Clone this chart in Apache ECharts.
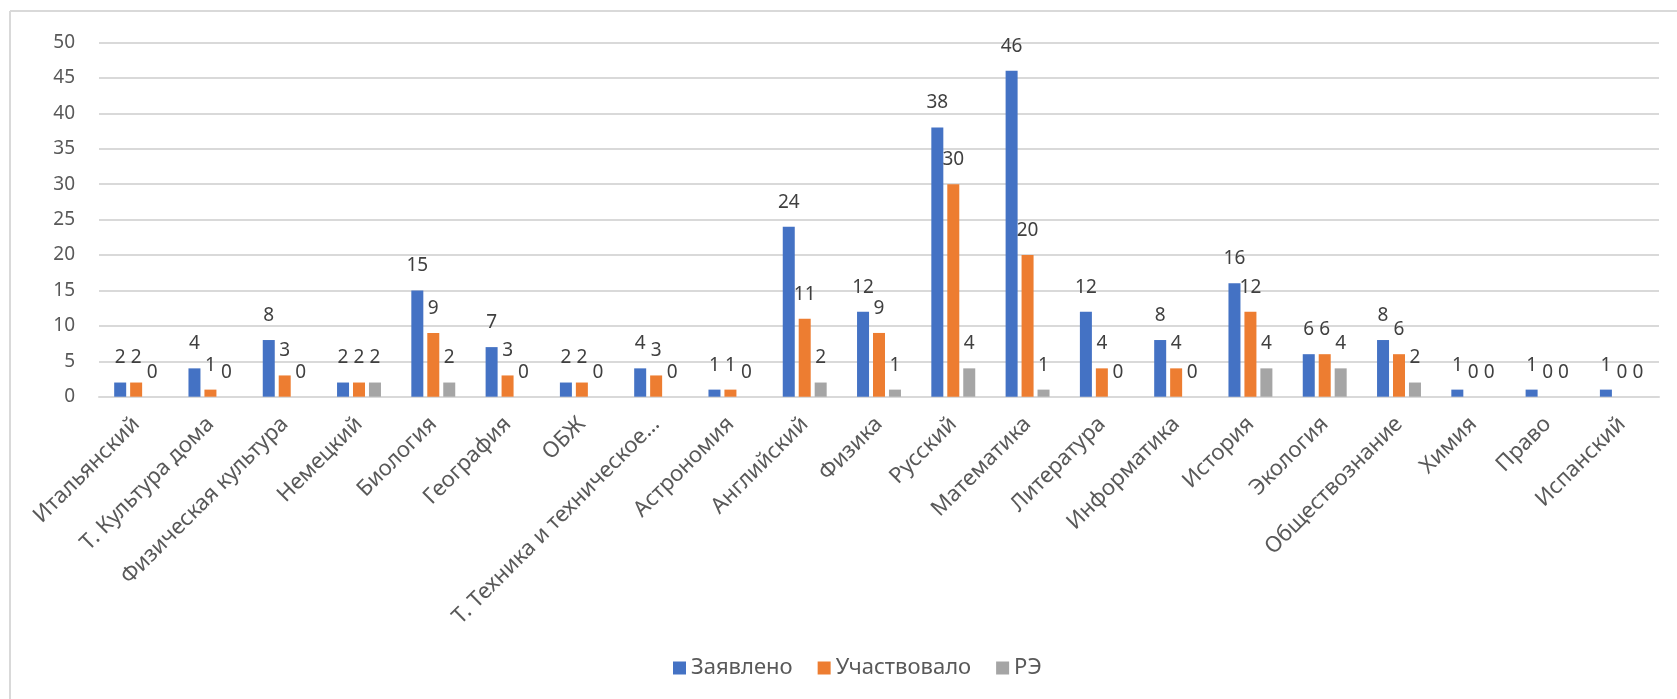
<!DOCTYPE html>
<html>
<head>
  <meta charset="utf-8" />
  <title>Олимпиада по предметам</title>
  <script src="https://cdn.jsdelivr.net/npm/echarts@6/dist/echarts.min.js"></script>
  <style>
    html, body { margin: 0; padding: 0; background: #fff; }
  </style>
</head>
<body>
<div id="main" style="width: 1677px;height:699px;"></div>
<script type="text/javascript">
  // предметы
  var subjects = ['Итальянский', 'Т. Культура дома', 'Физическая культура', 'Немецкий', 'Биология',
    'География', 'ОБЖ', 'Т. Техника и техническое…', 'Астрономия', 'Английский', 'Физика',
    'Русский', 'Математика', 'Литература', 'Информатика', 'История', 'Экология',
    'Обществознание', 'Химия', 'Право', 'Испанский'];
  var zayavleno = [2, 4, 8, 2, 15, 7, 2, 4, 1, 24, 12, 38, 46, 12, 8, 16, 6, 8, 1, 1, 1];
  var uchastvovalo = [2, 1, 3, 2, 9, 3, 2, 3, 1, 11, 9, 30, 20, 4, 4, 12, 6, 6, 0, 0, 0];
  var re = [0, 0, 0, 2, 2, 0, 0, 0, 0, 2, 1, 4, 1, 0, 0, 4, 4, 2, 0, 0, 0];
  var seriesNames = ['Заявлено', 'Участвовало', 'РЭ'];

  var font = 'Noto Sans';
  var labelStyle = {
    show: true,
    position: 'top',
    distance: 15,
    fontFamily: font,
    fontSize: 19,
    color: '#404040'
  };

  var myChart = echarts.init(document.getElementById('main'));
  var option = {
    animation: false,
    color: ['#4472C4', '#ED7D31', '#A5A5A5'],
    textStyle: { fontFamily: font },
    graphic: [
      { type: 'line', shape: { x1: 10, y1: 11, x2: 1677, y2: 11 }, style: { stroke: '#d9d9d9', lineWidth: 2 } },
      { type: 'line', shape: { x1: 10, y1: 11, x2: 10, y2: 699 }, style: { stroke: '#d9d9d9', lineWidth: 2 } }
    ],
    legend: {
      data: seriesNames,
      top: 652,
      left: 668,
      itemWidth: 13,
      itemHeight: 13,
      itemGap: 25,
      icon: 'rect',
      textStyle: { fontFamily: font, fontSize: 22, color: '#595959' }
    },
    grid: {
      left: 99,
      right: 18,
      top: 42.5,
      bottom: 302.3
    },
    xAxis: {
      type: 'category',
      data: subjects,
      axisTick: { show: false },
      axisLine: { lineStyle: { color: '#d9d9d9', width: 2 } },
      axisLabel: {
        rotate: 45,
        interval: 0,
        margin: 24,
        fontFamily: font,
        fontSize: 22,
        color: '#595959'
      }
    },
    yAxis: {
      type: 'value',
      min: 0,
      max: 50,
      interval: 5,
      axisLine: { show: false },
      axisTick: { show: false },
      splitLine: { lineStyle: { color: '#d9d9d9', width: 2 } },
      axisLabel: {
        margin: 24,
        fontFamily: font,
        fontSize: 19,
        color: '#595959'
      }
    },
    series: [
      { name: seriesNames[0], type: 'bar', data: zayavleno, barWidth: 12, barGap: '33%', label: labelStyle },
      { name: seriesNames[1], type: 'bar', data: uchastvovalo, barWidth: 12, barGap: '33%', label: labelStyle },
      { name: seriesNames[2], type: 'bar', data: re, barWidth: 12, barGap: '33%', label: labelStyle }
    ]
  };
  myChart.setOption(option);
</script>
</body>
</html>
